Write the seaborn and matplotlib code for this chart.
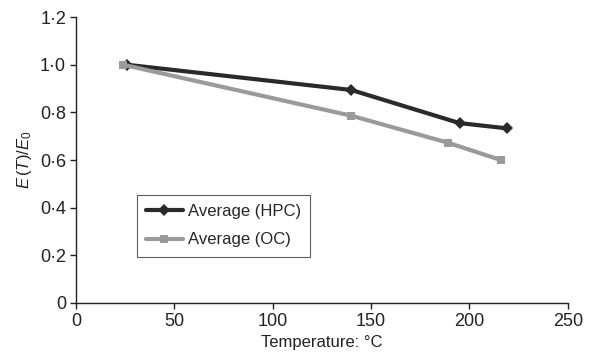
import matplotlib
matplotlib.use("Agg")
import matplotlib.pyplot as plt
import matplotlib.ticker as mticker
import pandas as pd
import seaborn as sns

# Normalised stiffness vs temperature
temp_hpc = [26, 140, 195, 219]
ratio_hpc = [1.0, 0.894, 0.755, 0.733]
temp_oc = [24, 140, 189, 216]
ratio_oc = [1.0, 0.786, 0.673, 0.600]
series_names = ["Average (HPC)", "Average (OC)"]

x_ticks = [0, 50, 100, 150, 200, 250]
y_ticks = [0, 0.2, 0.4, 0.6, 0.8, 1.0, 1.2]

sns.set_theme(style="white")
plt.rcParams["font.family"] = ["Liberation Sans", "DejaVu Sans"]
plt.rcParams["mathtext.fontset"] = "custom"
plt.rcParams["mathtext.rm"] = "Liberation Sans"
plt.rcParams["mathtext.it"] = "Liberation Sans:italic"

df = pd.DataFrame({
    "Temperature": temp_hpc + temp_oc,
    "Ratio": ratio_hpc + ratio_oc,
    "Series": [series_names[0]] * len(temp_hpc) + [series_names[1]] * len(temp_oc),
})

fig = plt.figure(figsize=(5.97, 3.56), dpi=100)
ax = fig.add_axes([0.127, 0.149, 0.824, 0.803])

sns.lineplot(
    data=df, x="Temperature", y="Ratio", hue="Series", style="Series",
    palette={series_names[0]: "#2a2a2a", series_names[1]: "#9a9a9c"},
    markers={series_names[0]: "D", series_names[1]: "s"},
    dashes=False, linewidth=3, markersize=6, markeredgewidth=0,
    sort=False, ax=ax,
)

ax.set_xlim(0, 250)
ax.set_ylim(0, 1.2)
ax.set_xticks(x_ticks)
ax.set_yticks(y_ticks)

def dot_fmt(v, _pos):
    if abs(v) < 1e-9:
        return "0"
    return f"{v:.1f}".replace(".", "\u00b7")

ax.yaxis.set_major_formatter(mticker.FuncFormatter(dot_fmt))
ax.xaxis.set_major_formatter(mticker.FuncFormatter(lambda v, p: f"{int(v)}"))

for side in ["top", "right"]:
    ax.spines[side].set_visible(False)
for side in ["left", "bottom"]:
    ax.spines[side].set_color("#222222")
    ax.spines[side].set_linewidth(1.0)

ax.tick_params(axis="both", which="major", direction="out", length=4, width=1,
               color="#222222", labelsize=13, labelcolor="#222222",
               left=True, bottom=True, pad=3)

ax.set_xlabel("Temperature: \u00b0C", fontsize=12, color="#222222", labelpad=4)
ax.set_ylabel(r"$E\,$($T$)/$E_0$", fontsize=12, color="#222222", labelpad=4)

leg = ax.legend(loc="upper left", bbox_to_anchor=(0.124, 0.378), frameon=True,
                fancybox=False, edgecolor="#333333", fontsize=12,
                handlelength=2.2, handletextpad=0.3, borderpad=0.55,
                labelspacing=0.8, borderaxespad=0)
leg.get_frame().set_linewidth(0.8)
leg.set_title(None)

fig.savefig("out.png", dpi=100)
